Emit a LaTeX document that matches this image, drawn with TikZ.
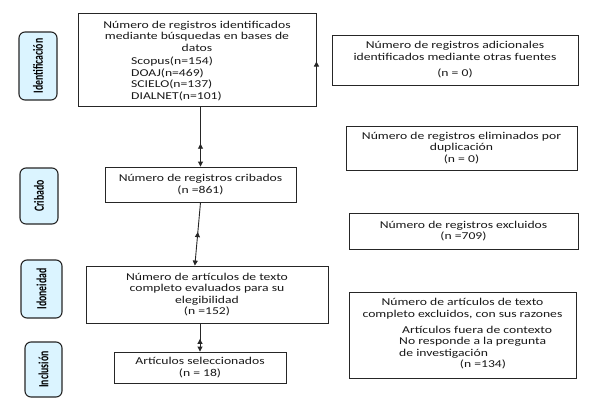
\documentclass[tikz,border=0pt]{standalone}
\usepackage{fontspec}
\setmainfont{Carlito}[FakeStretch=1.3]
\newfontfamily\lblfont{Carlito}[FakeStretch=0.7]
\usetikzlibrary{arrows.meta,calc,decorations.markings}
\begin{document}
\begin{tikzpicture}[x=1pt,y=-1pt,
  box/.style={draw=black!85, line width=0.9pt, inner sep=0pt},
  txt/.style={font=\fontsize{10.5}{11.5}\selectfont, align=center, inner sep=0pt, text=black!90},
  side/.style={draw=black!85, line width=1.1pt, rounded corners=6pt, fill=blue!30!cyan!14, inner sep=0pt},
  sidetxt/.style={rotate=90, font=\lblfont\bfseries\fontsize{14}{14}\selectfont, inner sep=0pt},
  tip/.style={-{Triangle[length=5pt,width=5pt]}},
  conn/.style={draw=black!85, line width=0.9pt},
  midup/.style={postaction={decorate}, decoration={markings, mark=at position #1 with {\arrowreversed{Triangle[length=5pt,width=5pt]}}}}
]
\useasboundingbox (0,0) rectangle (591,410);
\fill[white] (0,0) rectangle (591,410);

% side labels
\node[side, minimum width=38, minimum height=68] (s1) at (38,66) {};
\node[sidetxt] (s1t) at (s1.center) {Identificación};
\node[side, minimum width=38, minimum height=56] (s2) at (39,196) {};
\node[sidetxt] (s2t) at (s2.center) {Cribado};
\node[side, minimum width=41, minimum height=58] (s3) at (41.5,289) {};
\node[sidetxt] (s3t) at (s3.center) {Idoneidad};
\node[side, minimum width=37, minimum height=55] (s4) at (43.5,369.5) {};
\node[sidetxt] (s4t) at (s4.center) {Inclusión};

% main boxes
\node[box, minimum width=238, minimum height=93] (ida) at (197,59.5) {};
\node[txt] (idat) at (197,36) {Número de registros identificados\\mediante búsquedas en bases de\\datos};
\node[txt, align=left, anchor=north west] (idal) at (131,57) {Scopus(n=154)\\DOAJ(n=469)\\SCIELO(n=137)\\DIALNET(n=101)};

\node[box, minimum width=191, minimum height=35] (cri) at (200.5,184.5) {};
\node[txt] (crit) at (cri.center) {Número de registros cribados\\(n =861)};

\node[box, minimum width=242, minimum height=57] (elg) at (207,294.5) {};
\node[txt] (elgt) at (elg.center) {Número de artículos de texto\\completo evaluados para su\\elegibilidad\\(n =152)};

\node[box, minimum width=172, minimum height=31] (sel) at (200,367.5) {};
\node[txt] (selt) at (sel.center) {Artículos seleccionados\\(n = 18)};

% right boxes
\node[box, minimum width=246, minimum height=50] (adi) at (455,60) {};
\node[txt] (adit) at (adi.center) {Número de registros adicionales\\identificados mediante otras fuentes\\[5pt](n = 0)};

\node[box, minimum width=231, minimum height=44] (dup) at (461.5,148) {};
\node[txt] (dupt) at (dup.center) {Número de registros eliminados por\\duplicación\\(n = 0)};

\node[box, minimum width=229, minimum height=36] (exc) at (463.5,231) {};
\node[txt] (exct) at (exc.center) {Número de registros excluidos\\(n =709)};

\node[box, minimum width=227, minimum height=86] (raz) at (462.5,335) {};
\node[txt] (razt) at (462.5,308.5) {Número de artículos de texto\\completo excluidos, con sus razones};
\node[txt, align=left, anchor=north west] (razl) at (399,326) {\hspace*{3pt}Artículos fuera de contexto\\No responde a la pregunta\\de investigación};
\node[txt] (razn) at (483,364) {(n =134)};

% connectors
\draw[conn, tip] (ida.south east) -- ($(ida.east)+(0,2)$);
\draw[conn, tip, midup=0.62] (ida.south -| cri.north) -- (cri.north);
\draw[conn, tip, midup=0.47] (cri.south) -- ($(elg.north west)!0.45!(elg.north east)$);
\draw[conn, tip, midup=0.55] (elg.south -| sel.north) -- (sel.north);
\end{tikzpicture}
\end{document}
